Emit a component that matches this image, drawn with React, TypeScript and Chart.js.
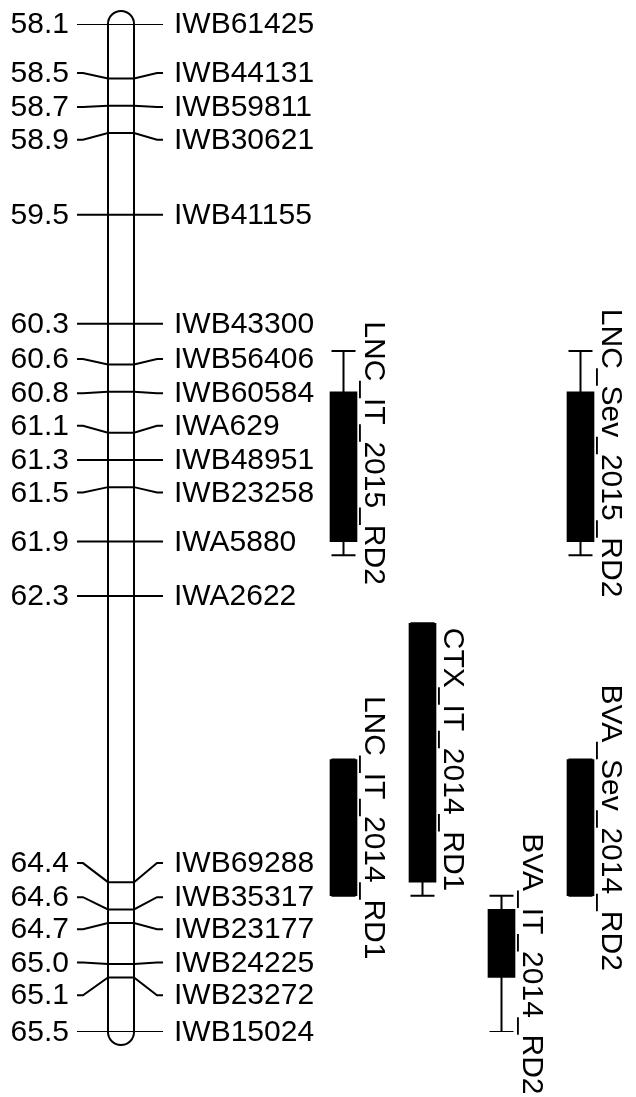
import React, { useEffect, useRef } from "react";
import { Chart, registerables } from "chart.js";

Chart.register(...registerables);

// Marker names and map positions (cM)
const markerNames = [
  "IWB61425", "IWB44131", "IWB59811", "IWB30621", "IWB41155", "IWB43300",
  "IWB56406", "IWB60584", "IWA629", "IWB48951", "IWB23258", "IWA5880",
  "IWA2622", "IWB69288", "IWB35317", "IWB23177", "IWB24225", "IWB23272", "IWB15024",
];
const markerPositions = [
  58.1, 58.5, 58.7, 58.9, 59.5, 60.3, 60.6, 60.8, 61.1, 61.3, 61.5, 61.9,
  62.3, 64.4, 64.6, 64.7, 65.0, 65.1, 65.5,
];
const positionLabels = [
  "58.1", "58.5", "58.7", "58.9", "59.5", "60.3", "60.6", "60.8", "61.1", "61.3",
  "61.5", "61.9", "62.3", "64.4", "64.6", "64.7", "65.0", "65.1", "65.5",
];
// Where each label sits after de-overlapping (cM units along the map)
const labelPositions = [
  58.1, 58.46, 58.71, 58.95, 59.5, 60.3, 60.56, 60.81, 61.05, 61.3, 61.54, 61.9,
  62.3, 64.26, 64.51, 64.745, 64.99, 65.23, 65.5,
];

// QTL intervals
const qtlNames = [
  "LNC_IT_2015_RD2", "CTX_IT_2014_RD1", "LNC_IT_2014_RD1",
  "BVA_IT_2014_RD2", "LNC_Sev_2015_RD2", "BVA_Sev_2014_RD2",
];
const qtlColumns = [0, 1, 0, 2, 3, 3];
const qtlOuterLow = [60.5, 62.5, 63.5, 64.5, 60.5, 63.5];
const qtlInnerLow = [60.8, 62.5, 63.5, 64.6, 60.8, 63.5];
const qtlInnerHigh = [61.9, 64.4, 64.5, 65.1, 61.9, 64.5];
const qtlOuterHigh = [62.0, 64.5, 64.5, 65.5, 62.0, 64.5];

// Layout (pixel-based x scale)
const W = 636;
const H = 1097;
const CHROM_L = 108;
const CHROM_R = 134;
const LEFT_LINE_START = 77;
const LEFT_STUB = 6;
const RIGHT_LINE_END = 163;
const RIGHT_STUB = 6;
const LEFT_TEXT_X = 69;
const RIGHT_TEXT_X = 174;
const COL0_X = 343.5;
const COL_STEP = 79;
const BOX_W = 27;
const CAP_W = 24;
const TEXT_GAP = 8;
const FONT = '30px "Liberation Sans", Arial, sans-serif';

export default function App() {
  const ref = useRef<HTMLCanvasElement | null>(null);

  useEffect(() => {
    document.body.style.margin = "0";
    const canvas = ref.current;
    if (!canvas) return;

    const colX = (c: number) => COL0_X + c * COL_STEP;

    const markerDatasets = markerPositions.map((p, i) => {
      const lp = labelPositions[i];
      return {
        type: "line" as const,
        label: markerNames[i],
        data: [
          { x: LEFT_LINE_START, y: lp },
          { x: LEFT_LINE_START + LEFT_STUB, y: lp },
          { x: CHROM_L, y: p },
          { x: CHROM_R, y: p },
          { x: RIGHT_LINE_END - RIGHT_STUB, y: lp },
          { x: RIGHT_LINE_END, y: lp },
        ],
        borderColor: "#000",
        borderWidth: 2,
        pointRadius: 0,
        tension: 0,
        fill: false,
        order: 2,
      };
    });

    const whiskerDatasets = qtlNames.map((n, i) => {
      const c = colX(qtlColumns[i]);
      const lo = qtlOuterLow[i];
      const hi = qtlOuterHigh[i];
      return {
        type: "line" as const,
        label: n + " whisker",
        data: [
          { x: c - CAP_W / 2, y: lo },
          { x: c + CAP_W / 2, y: lo },
          { x: c, y: null },
          { x: c, y: lo },
          { x: c, y: hi },
          { x: c, y: null },
          { x: c - CAP_W / 2, y: hi },
          { x: c + CAP_W / 2, y: hi },
        ],
        borderColor: "#000",
        borderWidth: 2,
        pointRadius: 0,
        tension: 0,
        spanGaps: false,
        fill: false,
        order: 3,
      };
    });

    const boxDataset = {
      type: "bar" as const,
      label: "QTL",
      data: qtlNames.map((_, i) => ({
        x: colX(qtlColumns[i]),
        y: [qtlInnerLow[i], qtlInnerHigh[i]],
      })),
      backgroundColor: "#000",
      borderColor: "#000",
      borderWidth: 0,
      barThickness: BOX_W,
      order: 1,
    };

    const chromPlugin = {
      id: "chrom",
      beforeDatasetsDraw(chart: any) {
        const { ctx, scales } = chart;
        const y = scales.y;
        const top = y.getPixelForValue(markerPositions[0]);
        const bot = y.getPixelForValue(markerPositions[markerPositions.length - 1]);
        const r = (CHROM_R - CHROM_L) / 2;
        const cx = (CHROM_L + CHROM_R) / 2;
        ctx.save();
        ctx.beginPath();
        ctx.moveTo(CHROM_L, top);
        ctx.arc(cx, top, r, Math.PI, 0, false);
        ctx.lineTo(CHROM_R, bot);
        ctx.arc(cx, bot, r, 0, Math.PI, false);
        ctx.closePath();
        ctx.fillStyle = "#fff";
        ctx.fill();
        ctx.lineWidth = 2;
        ctx.strokeStyle = "#000";
        ctx.stroke();
        ctx.restore();
      },
      afterDatasetsDraw(chart: any) {
        const { ctx, scales } = chart;
        const y = scales.y;
        ctx.save();
        ctx.font = FONT;
        ctx.fillStyle = "#000";
        ctx.textBaseline = "middle";
        labelPositions.forEach((lp, i) => {
          const py = y.getPixelForValue(lp);
          ctx.textAlign = "right";
          ctx.fillText(positionLabels[i], LEFT_TEXT_X, py + 1);
          ctx.textAlign = "left";
          ctx.fillText(markerNames[i], RIGHT_TEXT_X, py + 1);
        });
        qtlNames.forEach((n, i) => {
          const c = colX(qtlColumns[i]);
          const mid = (y.getPixelForValue(qtlOuterLow[i]) + y.getPixelForValue(qtlOuterHigh[i])) / 2;
          ctx.save();
          ctx.translate(c + BOX_W / 2 + TEXT_GAP, mid);
          ctx.rotate(Math.PI / 2);
          ctx.textAlign = "center";
          ctx.textBaseline = "alphabetic";
          ctx.fillText(n, 0, 0);
          ctx.restore();
        });
        ctx.restore();
      },
    };

    const chart = new Chart(canvas, {
      type: "bar",
      data: {
        datasets: [boxDataset as any, ...whiskerDatasets, ...markerDatasets],
      },
      options: {
        responsive: false,
        animation: false,
        layout: { padding: { top: 24, bottom: 65, left: 0, right: 0 } },
        plugins: { legend: { display: false }, tooltip: { enabled: false } },
        scales: {
          x: { type: "linear", min: 0, max: W, display: false, offset: false, grid: { display: false } },
          y: { type: "linear", min: 58.1, max: 65.5, reverse: true, display: false, grid: { display: false } },
        },
      },
      plugins: [chromPlugin],
    });

    return () => chart.destroy();
  }, []);

  return (
    <div style={{ position: "absolute", left: 0, top: 0, width: W, height: H, background: "#fff" }}>
      <canvas ref={ref} width={W} height={H} style={{ width: W, height: H, display: "block" }} />
    </div>
  );
}
